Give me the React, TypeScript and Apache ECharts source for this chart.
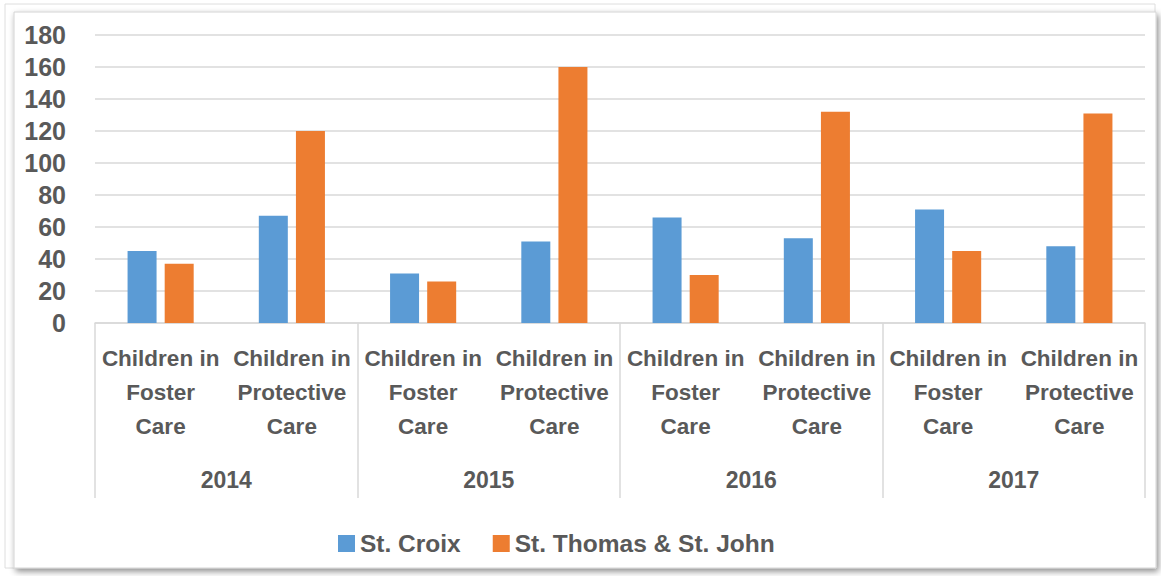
import React, { useEffect, useRef } from "react";
import * as echarts from "echarts";

const years = ["2014", "2015", "2016", "2017"];
const measures = ["Children in\nFoster\nCare", "Children in\nProtective\nCare"];
const categories = years.flatMap(() => measures);
const stCroix = [45, 67, 31, 51, 66, 53, 71, 48];
const stThomasJohn = [37, 120, 26, 160, 30, 132, 45, 131];
const seriesNames = ["St. Croix", "St. Thomas & St. John"];

const FONT = "'Liberation Sans Narrow', 'Arial Narrow', 'Liberation Sans', Arial, sans-serif";
const TEXT = "#595959";

export default function App() {
  const ref = useRef<HTMLDivElement>(null);
  useEffect(() => {
    if (!ref.current) return;
    const chart = echarts.init(ref.current, undefined, { renderer: "svg" });
    chart.setOption({
      animation: false,
      backgroundColor: "#ffffff",
      textStyle: { fontFamily: FONT },
      graphic: [
        {
          type: "rect",
          shape: { x: 5, y: 4, width: 1150, height: 564 },
          style: { fill: "none", stroke: "#dedede", lineWidth: 1 },
          silent: true,
          z: -10,
        },
        {
          type: "rect",
          shape: { x: 14, y: 12, width: 1142, height: 556 },
          style: {
            fill: "#ffffff",
            stroke: "#d4d4d4",
            lineWidth: 1,
            shadowBlur: 6,
            shadowOffsetX: 2,
            shadowOffsetY: 3,
            shadowColor: "rgba(0,0,0,0.45)",
          },
          silent: true,
          z: -9,
        },
      ],
      grid: { left: 95, right: 16, top: 35, bottom: 253, containLabel: false },
      legend: {
        left: 333,
        top: 526,
        itemWidth: 17,
        itemHeight: 17,
        itemGap: 32,
        icon: "rect",
        textStyle: { color: TEXT, fontSize: 24.5, fontWeight: "bold", fontFamily: FONT },
        data: seriesNames,
      },
      xAxis: [
        {
          type: "category",
          data: categories,
          position: "bottom",
          axisLine: { show: true, lineStyle: { color: "#d9d9d9", width: 1.5 } },
          axisTick: { show: false },
          axisLabel: {
            interval: 0,
            color: TEXT,
            fontSize: 22.5,
            fontWeight: "bold",
            fontFamily: FONT,
            lineHeight: 34,
            margin: 18,
          },
        },
        {
          type: "category",
          data: years,
          position: "bottom",
          offset: 0,
          axisLine: { show: false },
          axisTick: { show: true, length: 175, inside: false, lineStyle: { color: "#d9d9d9", width: 1.5 } },
          axisLabel: {
            interval: 0,
            color: TEXT,
            fontSize: 23,
            fontWeight: "bold",
            fontFamily: FONT,
            margin: 145,
          },
        },
      ],
      yAxis: {
        type: "value",
        min: 0,
        max: 180,
        interval: 20,
        axisLine: { show: false },
        axisTick: { show: false },
        splitLine: { lineStyle: { color: "#d9d9d9", width: 1.5 } },
        axisLabel: { color: TEXT, fontSize: 25, fontWeight: "bold", fontFamily: FONT, margin: 29 },
      },
      series: [
        {
          name: seriesNames[0],
          type: "bar",
          data: stCroix,
          xAxisIndex: 0,
          itemStyle: { color: "#5B9BD5" },
          barWidth: 29,
          barGap: "28%",
        },
        {
          name: seriesNames[1],
          type: "bar",
          data: stThomasJohn,
          xAxisIndex: 0,
          itemStyle: { color: "#ED7D31" },
          barWidth: 29,
          barGap: "28%",
        },
      ],
    });
    return () => chart.dispose();
  }, []);
  return (
    <div
      ref={ref}
      style={{ position: "absolute", left: 0, top: 0, width: 1161, height: 576 }}
    />
  );
}
